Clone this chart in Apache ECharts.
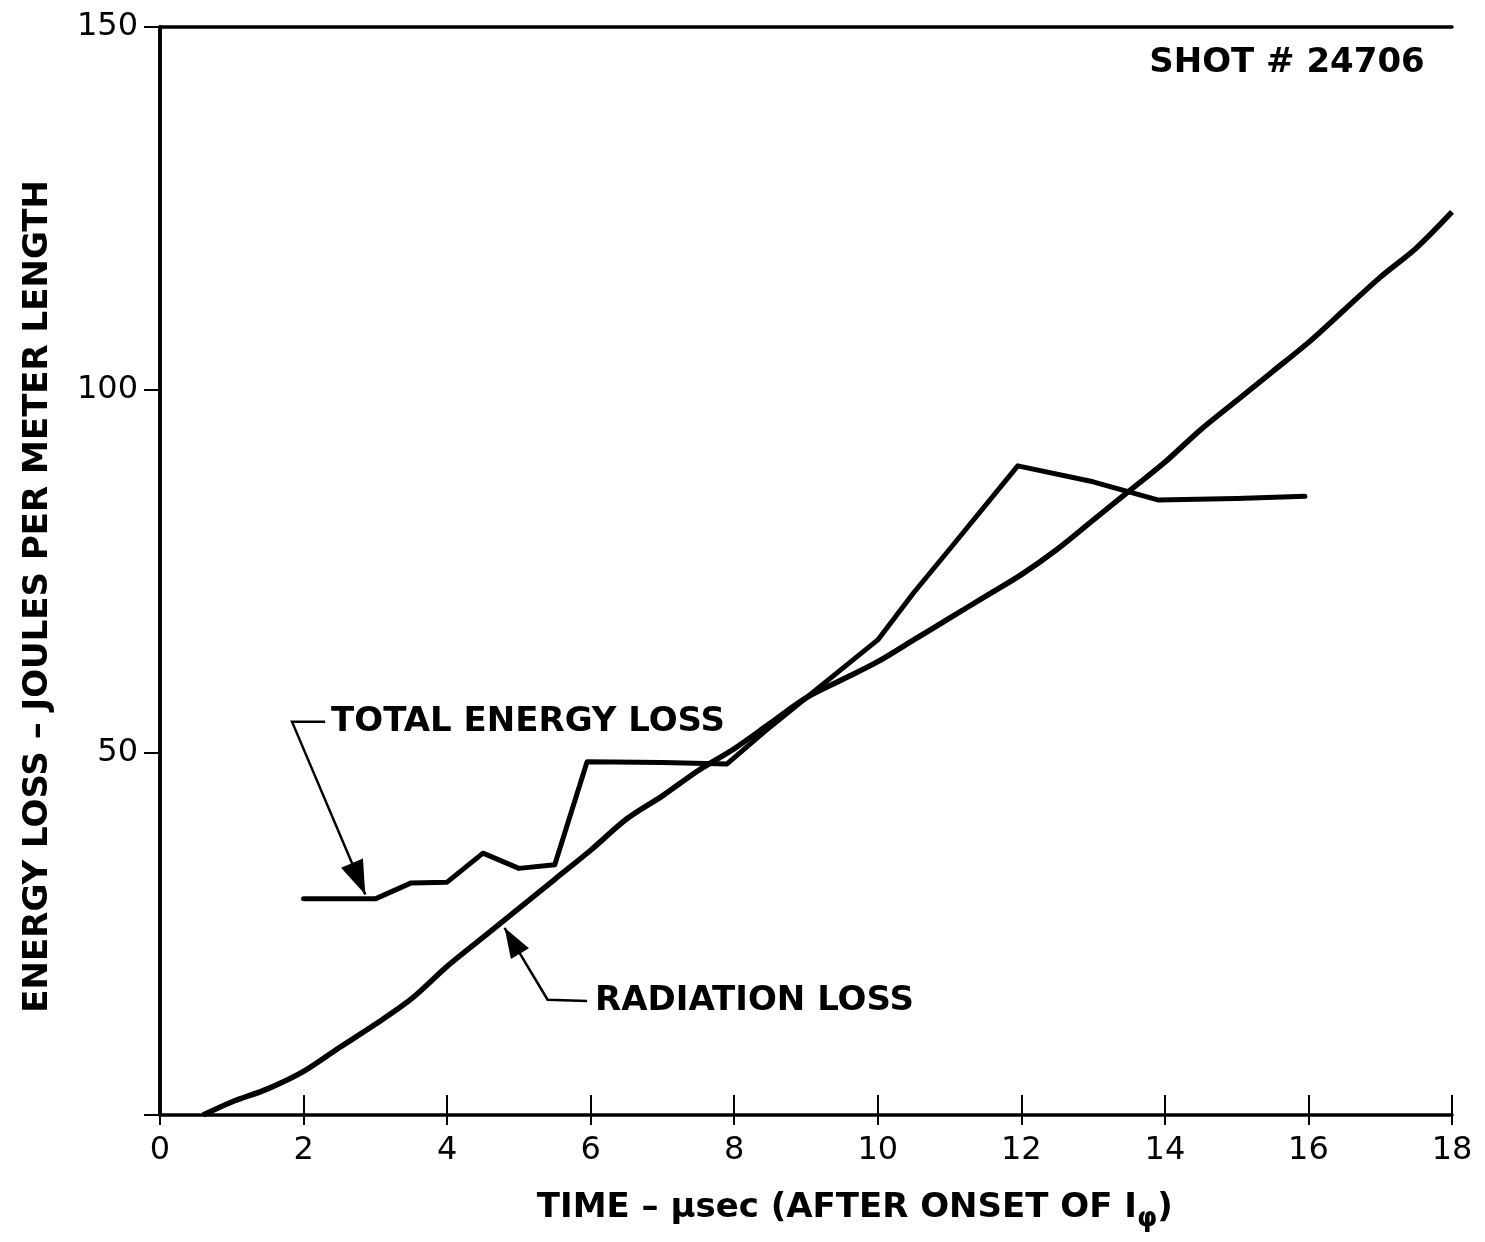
<!DOCTYPE html>
<html><head><meta charset="utf-8">
<script src="https://cdn.jsdelivr.net/npm/echarts@6/dist/echarts.min.js"></script>
<style>html,body{margin:0;padding:0;background:#fff}#c{width:1485px;height:1242px}</style>
</head><body><div id="c"></div>
<script>
// ---- data ----
const radiationX = [0.6, 1.0, 1.5, 2.0, 2.5, 3.0, 3.5, 4.0, 4.5, 5.0, 5.5, 6.0, 6.5, 7.0, 7.5, 8.0, 8.5, 9.0, 9.5, 10.0, 10.5, 11.0, 11.5, 12.0, 12.5, 13.0, 13.5, 14.0, 14.5, 15.0, 15.5, 16.0, 16.5, 17.0, 17.5, 18.0];
const radiationY = [0, 1.8, 3.6, 6.0, 9.3, 12.5, 16.0, 20.5, 24.5, 28.5, 32.5, 36.5, 40.8, 44.0, 47.5, 50.5, 54.0, 57.5, 60.0, 62.5, 65.5, 68.5, 71.5, 74.5, 78.0, 82.0, 86.0, 90.0, 94.5, 98.5, 102.5, 106.5, 111.0, 115.5, 119.5, 124.5];
const totalX = [2.0, 3.0, 3.5, 4.0, 4.5, 5.0, 5.5, 5.95, 7.0, 7.9, 8.5, 9.0, 9.5, 10.0, 10.5, 11.0, 11.95, 13.0, 13.9, 15.0, 15.95];
const totalY = [29.8, 29.8, 32.0, 32.1, 36.1, 34.0, 34.5, 48.7, 48.6, 48.4, 53.5, 57.5, 61.5, 65.5, 72.0, 78.0, 89.5, 87.3, 84.8, 85.0, 85.3];
const xTicks = [0, 2, 4, 6, 8, 10, 12, 14, 16, 18];
const yTicks = [50, 100, 150];
const labelTotal = 'TOTAL ENERGY LOSS';
const labelRad = 'RADIATION LOSS';
const shotLabel = 'SHOT # 24706';
const xTitle = '{a|TIME – μsec (AFTER ONSET OF I}{s|φ}{a|)}';
const yTitle = 'ENERGY LOSS – JOULES PER METER LENGTH';

const FONT = 'DejaVu Sans';
const chart = echarts.init(document.getElementById('c'), null, {renderer: 'canvas'});
const pair = (xs, ys) => xs.map((x, i) => [x, ys[i]]);
const grid = {left: 160, right: 33, top: 27, bottom: 127, containLabel: false, outerBoundsMode: 'none'};
const lineAx = {lineStyle: {color: '#000', width: 3.5}};

chart.setOption({
  animation: false,
  backgroundColor: '#fff',
  grid: grid,
  xAxis: [
    {type: 'value', min: 0, max: 18, interval: 2, position: 'bottom',
     axisLine: lineAx, splitLine: {show: false},
     axisTick: {inside: true, length: 20, lineStyle: {color: '#000', width: 2}},
     axisLabel: {color: '#000', fontFamily: FONT, fontSize: 32, margin: 20,
       formatter: v => (xTicks.indexOf(v) >= 0 ? String(v) : '')}},
    {type: 'value', min: 0, max: 18, interval: 2, position: 'bottom',
     axisLine: {show: false}, splitLine: {show: false},
     axisTick: {inside: false, length: 10, lineStyle: {color: '#000', width: 2}},
     axisLabel: {show: false}},
    {type: 'value', min: 0, max: 18, interval: 2, position: 'top',
     axisLine: lineAx, splitLine: {show: false}, axisTick: {show: false}, axisLabel: {show: false}}
  ],
  yAxis: [
    {type: 'value', min: 0, max: 150, interval: 50, position: 'left',
     axisLine: lineAx, splitLine: {show: false},
     axisTick: {inside: false, length: 12, lineStyle: {color: '#000', width: 2}},
     axisLabel: {color: '#000', fontFamily: FONT, fontSize: 32, margin: 22,
       formatter: v => (yTicks.indexOf(v) >= 0 ? String(v) : '')}},
    {type: 'value', min: 0, max: 150, interval: 50, position: 'right',
     axisLine: lineAx, splitLine: {show: false},
     axisTick: {inside: true, length: 16, lineStyle: {color: '#000', width: 2}},
     axisLabel: {show: false}}
  ],
  series: [
    {type: 'line', name: labelRad, data: pair(radiationX, radiationY), showSymbol: false, smooth: 0.3,
     lineStyle: {color: '#000', width: 5.5}, z: 3},
    {type: 'line', name: labelTotal, data: pair(totalX, totalY), showSymbol: false,
     lineStyle: {color: '#000', width: 5, cap: 'round', join: 'round'}, z: 3}
  ]
});

// ---- annotations positioned through the chart's own scales ----
const P = (x, y) => chart.convertToPixel({gridIndex: 0}, [x, y]);
function arrow(from, tip, size) {
  const dx = tip[0] - from[0], dy = tip[1] - from[1];
  const L = Math.hypot(dx, dy), ux = dx / L, uy = dy / L;
  const bx = tip[0] - ux * size, by = tip[1] - uy * size;
  const w = size * 0.35;
  return {type: 'polygon', shape: {points: [tip, [bx - uy * w, by + ux * w], [bx + uy * w, by - ux * w]]},
          style: {fill: '#000'}, z: 10};
}
const TF = 'bold 34px "' + FONT + '"';
const tTip = P(2.86, 30.4), tBend = P(1.84, 54.2), tEnd = P(2.3, 54.2);
const rTip = P(4.8, 25.8), rBend = P(5.4, 15.9), rEnd = P(5.95, 15.7);
const shot = P(17.62, 145);
const xT = P(9.68, -12.8);   // x-axis title anchor (below the axis)
const yT = P(-1.7, 71.5);    // y-axis title anchor (left of the axis)
const g = [
  {type: 'polyline', shape: {points: [tEnd, tBend, tTip]}, style: {stroke: '#000', lineWidth: 2.5, fill: null}, z: 10},
  arrow(tBend, tTip, 34),
  {type: 'text', x: tEnd[0] + 6, y: tEnd[1], style: {text: labelTotal, font: TF, fill: '#000', textVerticalAlign: 'middle'}, z: 10},
  {type: 'polyline', shape: {points: [rEnd, rBend, rTip]}, style: {stroke: '#000', lineWidth: 2.5, fill: null}, z: 10},
  arrow(rBend, rTip, 30),
  {type: 'text', x: rEnd[0] + 8, y: rEnd[1], style: {text: labelRad, font: TF, fill: '#000', textVerticalAlign: 'middle'}, z: 10},
  {type: 'text', x: shot[0], y: shot[1], style: {text: shotLabel, font: TF, fill: '#000', textAlign: 'right', textVerticalAlign: 'middle'}, z: 10},
  {type: 'text', x: xT[0], y: xT[1], style: {text: xTitle, fill: '#000', textAlign: 'center', textVerticalAlign: 'middle',
    rich: {a: {fontFamily: FONT, fontSize: 34, fontWeight: 'bold', fill: '#000'},
           s: {fontFamily: FONT, fontSize: 26, fontWeight: 'bold', fill: '#000', padding: [22, 0, 0, 0]}}}, z: 10},
  {type: 'text', x: 38, y: yT[1], rotation: Math.PI / 2,
   style: {text: yTitle, font: TF, fill: '#000', textAlign: 'center', textVerticalAlign: 'middle'}, z: 10}
];
chart.setOption({graphic: g});
</script></body></html>
